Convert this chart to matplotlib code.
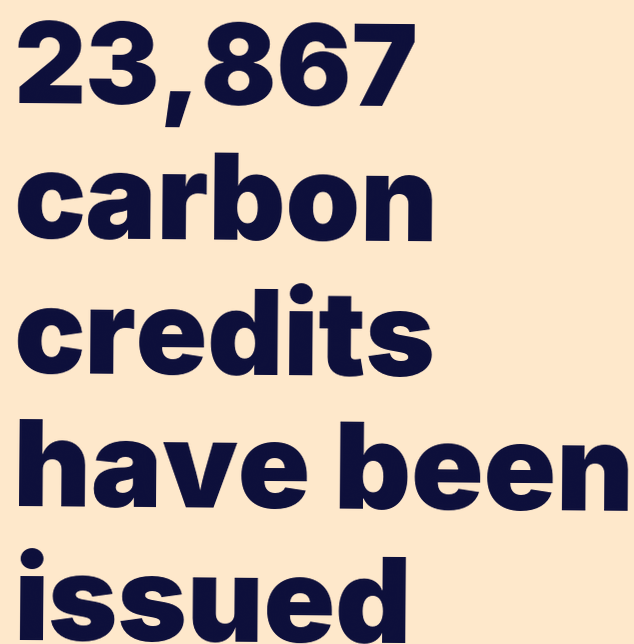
import matplotlib
matplotlib.use("Agg")
import matplotlib.pyplot as plt

# headline, one entry per line
lines     = ["23,867", "carbon", "credits", "have been", "issued"]
baselines = [103, 238, 373, 506, 640]   # pixel rows from top
sizes     = [80, 86, 85, 86, 85]

BG   = "#FEE8CB"
INK  = "#0C0E3A"
W, H = 634, 644

fig = plt.figure(figsize=(W / 100, H / 100), dpi=100)
fig.patch.set_facecolor(BG)

for txt, y, fs in zip(lines, baselines, sizes):
    fig.text(13 / W, 1 - y / H, txt,
             fontsize      = fs,
             fontfamily    = ["Inter", "DejaVu Sans"],
             fontweight    = "black",
             color         = INK,
             ha            = "left",
             va            = "baseline",
             rotation      = -0.45,
             rotation_mode = "anchor")

fig.savefig("out.png", dpi=100, facecolor=BG)
